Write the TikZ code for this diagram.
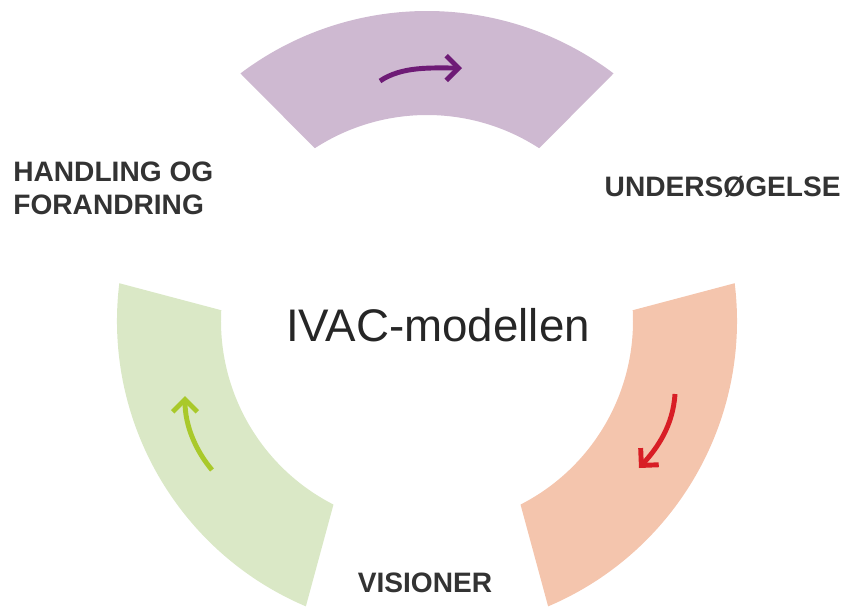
\documentclass[tikz,border=0pt]{standalone}
\usepackage{fontspec}
\setmainfont{Liberation Sans}
\usetikzlibrary{arrows.meta}

\definecolor{lilla}{HTML}{CEB9D1}
\definecolor{lillamork}{HTML}{6E1B76}
\definecolor{laks}{HTML}{F4C5AD}
\definecolor{rod}{HTML}{D81E25}
\definecolor{lysgron}{HTML}{DAE8C6}
\definecolor{gron}{HTML}{A9C92A}

\tikzset{
    fase/.style={font=\fontsize{16}{19}\selectfont\bfseries, text=black!80, inner sep=0pt},
    pil/.style={line width=2.8pt, -{Straight Barb[length=7pt, width=14pt]}},
}

\begin{document}
\begin{tikzpicture}[>=Stealth]
    \useasboundingbox (-8.54,-5.72) rectangle (8.32,6.42);
    \def\Ri{4.12} % inner radius
    \def\Ro{6.2}  % outer radius

    % === Ring segments ===
    \fill[lilla] (53:\Ro) arc (53:127:\Ro) -- (123:\Ri) arc (123:57:\Ri) -- cycle;
    \fill[laks] (-67:\Ro) arc (-67:7:\Ro) -- (3:\Ri) arc (3:-63:\Ri) -- cycle;
    \fill[lysgron] (173:\Ro) arc (173:247:\Ro) -- (243:\Ri) arc (243:177:\Ri) -- cycle;

    % === Arrows ===
    \coordinate (TopTail) at (-0.94,4.80);
    \coordinate (TopTip) at (0.70,5.06);
    \draw[pil, lillamork] (TopTail) .. controls (-0.5,5.1) and (0.1,5.06) .. (TopTip);

    \coordinate (RightTail) at (4.96,-1.46);
    \coordinate (RightTip) at (4.24,-2.94);
    \draw[pil, rod] (RightTail) .. controls (4.92,-2.1) and (4.6,-2.55) .. (RightTip);

    \coordinate (LeftTail) at (-4.30,-2.98);
    \coordinate (LeftTip) at (-4.84,-1.50);
    \draw[pil, gron] (LeftTail) .. controls (-4.62,-2.6) and (-4.84,-2.1) .. (LeftTip);

    % === Labels ===
    \node[font=\fontsize{26}{31}\selectfont, text=black!85, inner sep=0pt] (model) at (0.22,-0.08) {IVAC-modellen};
    \node[fase, anchor=east] (undersog) at (8.28,2.68) {UNDERSØGELSE};
    \node[fase] (vision) at (-0.04,-5.24) {VISIONER};
    \node[fase, anchor=west, align=left] (handling) at (-8.28,2.65) {HANDLING OG\\FORANDRING};
\end{tikzpicture}
\end{document}
